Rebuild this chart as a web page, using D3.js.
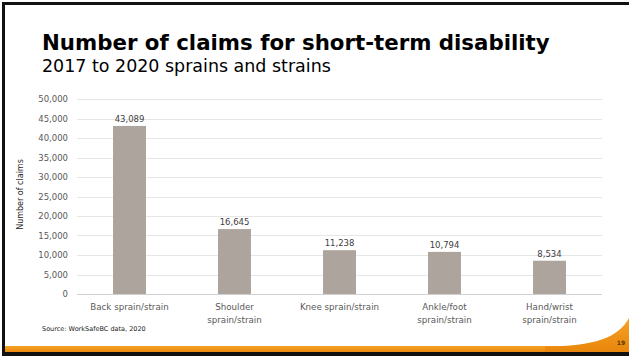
<!DOCTYPE html>
<html>
<head>
<meta charset="utf-8">
<script src="https://cdn.jsdelivr.net/npm/d3@7"></script>
<style>
  html, body { margin: 0; padding: 0; background: #fff; }
  svg { display: block; font-family: Verdana, "DejaVu Sans", sans-serif; }
</style>
</head>
<body>
<div id="chart"></div>
<script>
const categories = [
  ['Back sprain/strain'],
  ['Shoulder', 'sprain/strain'],
  ['Knee sprain/strain'],
  ['Ankle/foot', 'sprain/strain'],
  ['Hand/wrist', 'sprain/strain']
];
const claims = [43089, 16645, 11238, 10794, 8534];
const yTicks = [0, 5000, 10000, 15000, 20000, 25000, 30000, 35000, 40000, 45000, 50000];

const W = 629, H = 356;
const margin = { left: 77, right: 27, top: 99, bottom: 62 };

const svg = d3.select('#chart')
  .append('svg')
  .attr('width', W)
  .attr('height', H);

// slide frame
svg.append('rect').attr('x', 2).attr('y', 2).attr('width', 3).attr('height', H - 2).attr('fill', '#111');
svg.append('rect').attr('x', 2).attr('y', 2).attr('width', W - 2).attr('height', 3).attr('fill', '#111');

// orange footer band + swoosh
const grad = svg.append('defs').append('linearGradient')
  .attr('id', 'og').attr('x1', 0).attr('y1', 0).attr('x2', 0).attr('y2', 1);
grad.append('stop').attr('offset', '0%').attr('stop-color', '#F5A227');
grad.append('stop').attr('offset', '100%').attr('stop-color', '#E8850A');

svg.append('rect').attr('x', 5).attr('y', 346).attr('width', W - 5).attr('height', 7).attr('fill', 'url(#og)');
svg.append('path')
  .attr('d', 'M545,346.5 C595,346 618,338 629,318 L629,353 L545,353 Z')
  .attr('fill', 'url(#og)');
svg.append('rect').attr('x', 2).attr('y', 352).attr('width', W - 2).attr('height', 4).attr('fill', '#111');

svg.append('text')
  .attr('x', 621).attr('y', 345)
  .attr('text-anchor', 'middle')
  .attr('font-size', 6)
  .attr('font-weight', 'bold')
  .attr('fill', '#5a3a00')
  .text('19');

// titles
function fitText(sel, target) {
  const len = sel.node().getComputedTextLength();
  const fs = parseFloat(sel.attr('font-size'));
  sel.attr('font-size', fs * target / len);
}

const title = svg.append('text')
  .attr('x', 42).attr('y', 50)
  .attr('font-size', 20)
  .attr('font-weight', 'bold')
  .attr('fill', '#000')
  .text('Number of claims for short-term disability');
fitText(title, 508);

const subtitle = svg.append('text')
  .attr('x', 42).attr('y', 72)
  .attr('font-size', 16)
  .attr('fill', '#000')
  .text('2017 to 2020 sprains and strains');
fitText(subtitle, 289);

// scales
const x = d3.scaleBand()
  .domain(d3.range(categories.length))
  .range([margin.left, W - margin.right])
  .paddingInner(0.686)
  .paddingOuter(0.343);

const y = d3.scaleLinear()
  .domain([0, 50000])
  .range([H - margin.bottom, margin.top]);

// gridlines
svg.append('g')
  .selectAll('line')
  .data(yTicks)
  .join('line')
  .attr('x1', margin.left).attr('x2', W - margin.right)
  .attr('y1', d => Math.round(y(d)) + 0.5).attr('y2', d => Math.round(y(d)) + 0.5)
  .attr('stroke', d => d === 0 ? '#d0d0d0' : '#e6e6e6')
  .attr('stroke-width', 1);

// y axis labels
const yAxis = svg.append('g')
  .attr('transform', `translate(${margin.left - 9},0)`)
  .call(d3.axisLeft(y).tickValues(yTicks).tickFormat(d3.format(',')).tickSize(0).tickPadding(0));
yAxis.select('.domain').remove();
yAxis.selectAll('text')
  .attr('font-family', 'Verdana, "DejaVu Sans", sans-serif')
  .attr('font-size', 8.5)
  .attr('fill', '#595959');

svg.append('text')
  .attr('transform', `translate(23,${(y(0) + y(50000)) / 2 - 2}) rotate(-90)`)
  .attr('text-anchor', 'middle')
  .attr('font-size', 8)
  .attr('fill', '#262626')
  .text('Number of claims');

// bars
svg.append('g')
  .selectAll('rect')
  .data(claims)
  .join('rect')
  .attr('x', (d, i) => x(i))
  .attr('y', d => y(d))
  .attr('width', x.bandwidth())
  .attr('height', d => y(0) - y(d))
  .attr('fill', '#ADA59D');

// data labels
svg.append('g')
  .selectAll('text')
  .data(claims)
  .join('text')
  .attr('x', (d, i) => x(i) + x.bandwidth() / 2)
  .attr('y', d => y(d) - 4)
  .attr('text-anchor', 'middle')
  .attr('font-size', 8.5)
  .attr('fill', '#404040')
  .text(d3.format(','));

// category labels
const cat = svg.append('g')
  .selectAll('text')
  .data(categories)
  .join('text')
  .attr('x', (d, i) => x(i) + x.bandwidth() / 2)
  .attr('y', 310)
  .attr('text-anchor', 'middle')
  .attr('font-size', 8.7)
  .attr('fill', '#595959');
cat.selectAll('tspan')
  .data(d => d)
  .join('tspan')
  .attr('x', function () { return d3.select(this.parentNode).attr('x'); })
  .attr('dy', (d, i) => i === 0 ? 0 : 12.5)
  .text(d => d);

// source
svg.append('text')
  .attr('x', 42).attr('y', 331)
  .attr('font-size', 6.5)
  .attr('fill', '#222')
  .text('Source: WorkSafeBC data, 2020');
</script>
</body>
</html>
